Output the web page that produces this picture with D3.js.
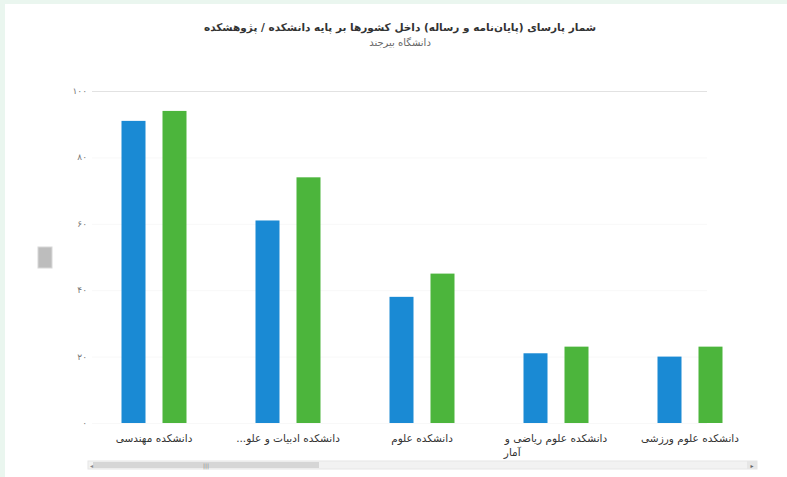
<!DOCTYPE html>
<meta charset="utf-8">
<html>
<head>
    <script src="https://d3js.org/d3.v7.min.js"></script>
    <style>
        body { margin: 0; background: #eaf6ef; }
        #chart { position: absolute; left: 5px; top: 4px; }
        text { font-family: "DejaVu Sans", "Noto Sans", sans-serif; }
    </style>
</head>
<body>
    <div id="chart"></div>
    <script>
        // categories (faculties) and the two series
        var categories = ["دانشکده مهندسی", "دانشکده ادبیات و علو...", "دانشکده علوم", "دانشکده علوم ریاضی و|آمار", "دانشکده علوم ورزشی"];
        var seriesA = [91, 61, 38, 21, 20];
        var seriesB = [94, 74, 45, 23, 23];
        var yTicks = [0, 20, 40, 60, 80, 100];
        var yTickLabels = ["۰", "۲۰", "۴۰", "۶۰", "۸۰", "۱۰۰"];

        var W = 782, H = 473;
        var svg = d3.select("#chart").append("svg")
            .attr("width", W).attr("height", H);

        svg.append("rect").attr("width", W).attr("height", H).attr("fill", "#ffffff");

        // plot area (svg coords)
        var plotL = 82, plotR = 752, plotT = 87, plotB = 419;

        var x = d3.scaleBand().domain(d3.range(categories.length)).range([plotL, plotR]);
        var y = d3.scaleLinear().domain([0, 100]).range([plotB, plotT]);

        // titles
        svg.append("text").attr("x", 395).attr("y", 27).attr("text-anchor", "middle")
            .attr("direction", "rtl")
            .style("font-size", "10.5px").style("font-weight", "bold").attr("fill", "#333")
            .text("شمار پارسای (پایان‌نامه و رساله) داخل کشورها بر پایه دانشکده / پژوهشکده");
        svg.append("text").attr("x", 395).attr("y", 42).attr("text-anchor", "middle")
            .attr("direction", "rtl")
            .style("font-size", "10px").attr("fill", "#666")
            .text("دانشگاه بیرجند");

        // gridlines
        svg.append("g").selectAll("line").data(yTicks).enter().append("line")
            .attr("x1", 87).attr("x2", 702)
            .attr("y1", function (d) { return y(d) + 0.5; })
            .attr("y2", function (d) { return y(d) + 0.5; })
            .attr("stroke", function (d) { return d === 100 ? "#e2e2e2" : "#f8f8f8"; })
            .attr("stroke-width", 1);

        // y tick labels
        svg.append("g").selectAll("text").data(yTicks).enter().append("text")
            .attr("x", 82).attr("y", function (d) { return y(d) + 3; })
            .attr("text-anchor", "end")
            .style("font-size", "9px").attr("fill", "#777")
            .text(function (d, i) { return yTickLabels[i]; });

        // y axis title box
        svg.append("rect").attr("x", 33).attr("y", 243).attr("width", 14).attr("height", 21)
            .attr("fill", "#bdbdbd").attr("stroke", "#d8d8d8");

        // bars
        var bw = 24, gap = 17;
        var g = svg.append("g");
        g.selectAll(".a").data(seriesA).enter().append("rect")
            .attr("x", function (d, i) { return x(i) + x.bandwidth() / 2 - gap / 2 - bw; })
            .attr("y", function (d) { return y(d); })
            .attr("width", bw)
            .attr("height", function (d) { return y(0) - y(d); })
            .attr("fill", "#1a8ad4");
        g.selectAll(".b").data(seriesB).enter().append("rect")
            .attr("x", function (d, i) { return x(i) + x.bandwidth() / 2 + gap / 2; })
            .attr("y", function (d) { return y(d); })
            .attr("width", bw)
            .attr("height", function (d) { return y(0) - y(d); })
            .attr("fill", "#4cb53c");

        // category labels
        categories.forEach(function (c, i) {
            var parts = c.split("|");
            var cx = x(i) + x.bandwidth() / 2;
            var t = svg.append("text").attr("x", cx).attr("y", 438)
                .attr("text-anchor", "middle").attr("direction", "rtl")
                .style("font-size", "10.5px").attr("fill", "#333")
                .text(parts[0]);
            if (parts.length > 1) {
                var bb = t.node().getBBox();
                svg.append("text").attr("x", bb.x).attr("y", 452)
                    .attr("text-anchor", "start")
                    .style("font-size", "10.5px").attr("fill", "#333")
                    .text(parts[1]);
            }
        });

        // scrollbar
        svg.append("rect").attr("x", 83).attr("y", 457).attr("width", 669).attr("height", 8)
            .attr("fill", "#f2f2f2").attr("stroke", "#e6e6e6");
        svg.append("rect").attr("x", 88).attr("y", 458).attr("width", 226).attr("height", 6)
            .attr("fill", "#d6d6d6");
        svg.append("text").attr("x", 201).attr("y", 464).attr("text-anchor", "middle")
            .style("font-size", "6px").attr("fill", "#888").text("|||");
        svg.append("text").attr("x", 85).attr("y", 464)
            .style("font-size", "6px").attr("fill", "#888").text("◂");
        svg.append("rect").attr("x", 742).attr("y", 457).attr("width", 10).attr("height", 8)
            .attr("fill", "#e6e6e6");
        svg.append("text").attr("x", 747).attr("y", 464).attr("text-anchor", "middle")
            .style("font-size", "6px").attr("fill", "#666").text("▸");
    </script>
</body>
</html>
